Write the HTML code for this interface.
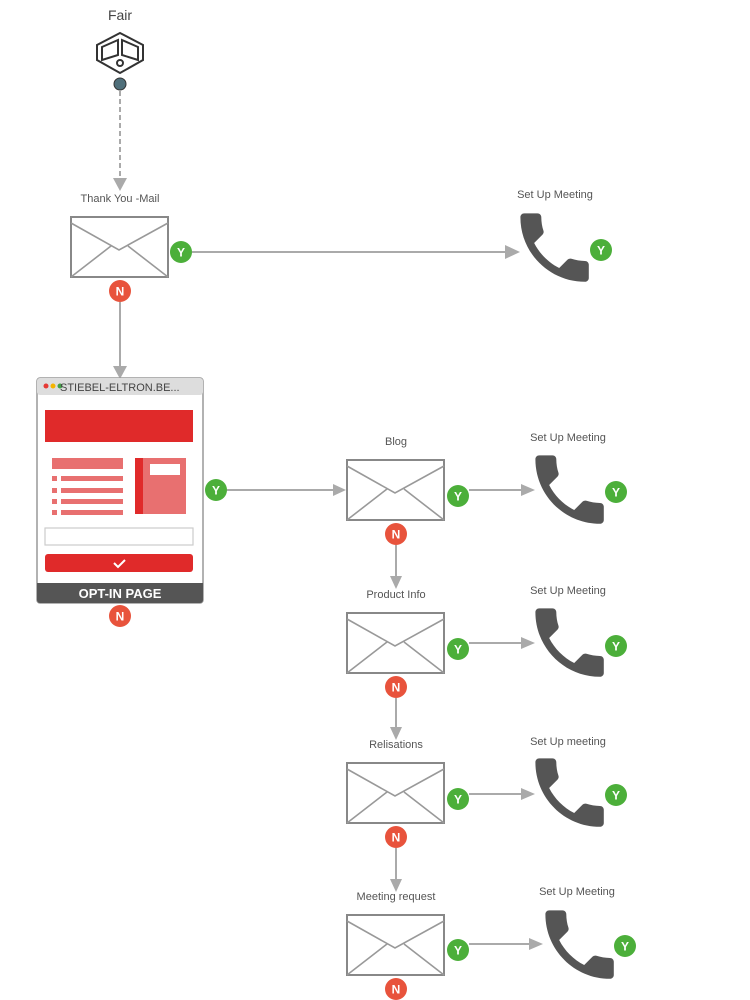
<!DOCTYPE html>
<html><head><meta charset="utf-8"><style>
html,body{margin:0;padding:0;background:#fff;}
svg{display:block;}
text{font-family:"Liberation Sans",sans-serif;}
</style></head><body>
<svg width="750" height="1000" viewBox="0 0 750 1000" xmlns="http://www.w3.org/2000/svg">
<defs>
<g id="env"><rect x="0" y="0" width="97" height="60" fill="#fff" stroke="#888" stroke-width="2"/><path d="M0 6 L48 33 L97 6 M0 60 L40 29 M97 60 L57 29" fill="none" stroke="#999" stroke-width="1.6"/></g>
<g id="ph"><path transform="translate(-11,-11) scale(3.8)" d="M6.62 10.79c1.44 2.83 3.76 5.14 6.59 6.59l2.2-2.2c.27-.27.67-.36 1.02-.24 1.12.37 2.330.57 3.57.57.55 0 1 .45 1 1V20c0 .55-.45 1-1 1-9.39 0-17-7.61-17-17 0-.55.45-1 1-1h3.5c.55 0 1 .45 1 1 0 1.25.2 2.45.57 3.57.11.35.03.74-.25 1.02l-2.2 2.2z" fill="#555"/></g>
<g id="Y"><circle r="11" fill="#4caf3a"/><text y="4.5" text-anchor="middle" font-size="12" font-weight="bold" fill="#fff">Y</text></g>
<g id="N"><circle r="11" fill="#e8533c"/><text y="4.5" text-anchor="middle" font-size="12" font-weight="bold" fill="#fff">N</text></g>
</defs>
<g font-size="11" fill="#555" text-anchor="middle">
<text x="120" y="20" font-size="14" fill="#444">Fair</text>
<text x="120" y="202">Thank You -Mail</text>
<text x="555" y="198">Set Up Meeting</text>
<text x="396" y="445">Blog</text>
<text x="568" y="441">Set Up Meeting</text>
<text x="396" y="598">Product Info</text>
<text x="568" y="594">Set Up Meeting</text>
<text x="396" y="748">Relisations</text>
<text x="568" y="745">Set Up meeting</text>
<text x="396" y="900">Meeting request</text>
<text x="577" y="895">Set Up Meeting</text>
</g>
<!-- fair icon -->
<g fill="none" stroke="#333" stroke-width="2">
<path d="M120 33 L143 45 L143 60 L120 73 L97 60 L97 45 Z"/>
<path d="M102 47 L118 40 L118 55 L102 60 Z M122 40 L138 47 L138 60 L122 55 Z"/>
<circle cx="120" cy="63" r="3"/>
</g>
<circle cx="120" cy="84" r="6" fill="#4f6f7a" stroke="#333" stroke-width="1"/>
<!-- connectors -->
<g stroke="#aaa" stroke-width="2" fill="none">
<path d="M120 91 L120 178" stroke-dasharray="5,3"/>
<path d="M192 252 L508 252"/>
<path d="M120 302 L120 366"/>
<path d="M227 490 L334 490"/>
<path d="M469 490 L522 490"/><path d="M469 643 L522 643"/><path d="M469 794 L522 794"/><path d="M469 944 L530 944"/>
<path d="M396 545 L396 577"/><path d="M396 698 L396 728"/><path d="M396 848 L396 880"/>
</g>
<g fill="#aaa">
<path d="M113 178 L127 178 L120 191 Z"/>
<path d="M505 245 L520 252 L505 259 Z"/>
<path d="M113 366 L127 366 L120 379 Z"/>
<path d="M333 484 L346 490 L333 496 Z"/>
<path d="M521 484 L535 490 L521 496 Z"/><path d="M521 637 L535 643 L521 649 Z"/><path d="M521 788 L535 794 L521 800 Z"/><path d="M529 938 L543 944 L529 950 Z"/>
<path d="M390 576 L402 576 L396 589 Z"/><path d="M390 727 L402 727 L396 740 Z"/><path d="M390 879 L402 879 L396 892 Z"/>
</g>
<!-- envelopes -->
<use href="#env" x="71" y="217"/>
<use href="#env" x="347" y="460"/>
<use href="#env" x="347" y="613"/>
<use href="#env" x="347" y="763"/>
<use href="#env" x="347" y="915"/>
<!-- phones -->
<use href="#ph" x="520" y="213"/>
<use href="#ph" x="535" y="455"/>
<use href="#ph" x="535" y="608"/>
<use href="#ph" x="535" y="758"/>
<use href="#ph" x="545" y="910"/>
<!-- opt-in page -->
<rect x="37" y="378" width="166" height="225" rx="3" fill="#fff" stroke="#999" stroke-width="1.5"/>
<rect x="37" y="378" width="166" height="17" rx="3" fill="#ddd"/>
<circle cx="46" cy="386" r="2.5" fill="#e53935"/><circle cx="53" cy="386" r="2.5" fill="#f5b400"/><circle cx="60" cy="386" r="2.5" fill="#43a047"/>
<text x="60" y="391" font-size="11" fill="#444">STIEBEL-ELTRON.BE...</text>
<rect x="45" y="410" width="148" height="32" fill="#e02a2a"/>
<rect x="52" y="458" width="71" height="11" fill="#e87070"/>
<g fill="#e87070"><rect x="52" y="476" width="5" height="5"/><rect x="61" y="476" width="62" height="5"/><rect x="52" y="488" width="5" height="5"/><rect x="61" y="488" width="62" height="5"/><rect x="52" y="499" width="5" height="5"/><rect x="61" y="499" width="62" height="5"/><rect x="52" y="510" width="5" height="5"/><rect x="61" y="510" width="62" height="5"/></g>
<rect x="135" y="458" width="51" height="56" fill="#e87070"/><rect x="135" y="458" width="8" height="56" fill="#e02a2a"/><rect x="150" y="464" width="30" height="11" fill="#fff"/>
<rect x="45" y="528" width="148" height="17" fill="#fff" stroke="#ccc" stroke-width="1.2"/>
<rect x="45" y="554" width="148" height="18" rx="3" fill="#e02a2a"/>
<path d="M114 563 L118 567 L125 560" stroke="#fff" stroke-width="2" fill="none"/>
<path d="M37 583 H203 V600 a3 3 0 0 1 -3 3 H40 a3 3 0 0 1 -3 -3 Z" fill="#555"/>
<text x="120" y="598" text-anchor="middle" font-size="13" font-weight="bold" fill="#fff">OPT-IN PAGE</text>
<!-- badges -->
<use href="#Y" x="181" y="252"/><use href="#N" x="120" y="291"/>
<use href="#Y" x="601" y="250"/>
<use href="#Y" x="216" y="490"/><use href="#N" x="120" y="616"/>
<use href="#Y" x="458" y="496"/><use href="#N" x="396" y="534"/><use href="#Y" x="616" y="492"/>
<use href="#Y" x="458" y="649"/><use href="#N" x="396" y="687"/><use href="#Y" x="616" y="646"/>
<use href="#Y" x="458" y="799"/><use href="#N" x="396" y="837"/><use href="#Y" x="616" y="795"/>
<use href="#Y" x="458" y="950"/><use href="#N" x="396" y="989"/><use href="#Y" x="625" y="946"/>
</svg>
</body></html>
